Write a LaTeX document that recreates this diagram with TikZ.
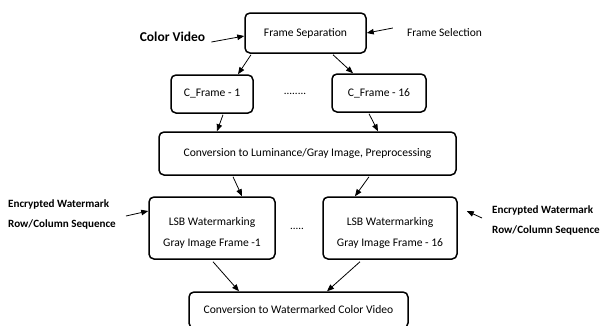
\documentclass[tikz,border=0pt]{standalone}
\usepackage{fontspec}
\setmainfont{Carlito}
\usetikzlibrary{arrows.meta}
\begin{document}
\begin{tikzpicture}[x=1pt,y=-1pt,
  box/.style={draw,line width=1.5pt,rounded corners=5pt,inner sep=0pt,align=center,font=\fontsize{11.6}{21}\selectfont},
  lbl/.style={inner sep=0pt,align=left},
  arr/.style={line width=0.8pt,-{Triangle[length=7pt,width=5.5pt]}}]
\useasboundingbox (0,0) rectangle (602,325);
\node[box,minimum width=121pt,minimum height=40pt] (fs) at (305.5,33) {Frame Separation};
\node[box,minimum width=82pt,minimum height=38pt] (c1) at (212,94) {C\_Frame - 1};
\node[box,minimum width=94pt,minimum height=38pt] (c16) at (379,93) {C\_Frame - 16};
\node[inner sep=0pt,font=\fontsize{11}{12}\selectfont] (d1) at (295,94) {........};
\node[box,minimum width=297pt,minimum height=43pt] (conv) at (307.5,153.5) {Conversion to Luminance/Gray Image, Preprocessing};
\node[box,minimum width=126pt,minimum height=62pt] (l1) at (212,228) {\rule{0pt}{18pt}LSB Watermarking\\Gray Image Frame -1};
\node[box,minimum width=134pt,minimum height=62pt] (l16) at (390,228) {\rule{0pt}{18pt}LSB Watermarking\\Gray Image Frame - 16};
\node[inner sep=0pt,font=\fontsize{11}{12}\selectfont] (d2) at (297,229) {.....};
\node[box,minimum width=219pt,minimum height=36pt] (bot) at (298.5,310) {Conversion to Watermarked Color Video};
\node[lbl,font=\fontsize{13.5}{15}\selectfont\bfseries] (cv) at (172.5,37) {Color Video};
\node[lbl,font=\fontsize{11.5}{12}\selectfont] (fsel) at (444.5,33) {Frame Selection};
\node[lbl,font=\fontsize{11.1}{20}\selectfont\bfseries,anchor=west] (le) at (8,214) {Encrypted Watermark\\Row/Column Sequence};
\node[lbl,font=\fontsize{11.1}{20}\selectfont\bfseries,anchor=west] (re) at (492,220) {Encrypted Watermark\\Row/Column Sequence};
\draw[arr] ([xshift=6pt,yshift=-5pt]cv.east) -- ([yshift=-3pt]fs.west);
\draw[arr] ([xshift=-14pt,yshift=5pt]fsel.west) -- (fs.east);
\draw[arr] ([xshift=-54.5pt,yshift=-1pt]fs.south) -- ([xshift=26pt]c1.north);
\draw[arr] ([xshift=27.5pt,yshift=-1pt]fs.south) -- ([xshift=-26pt]c16.north);
\draw[arr] ([xshift=11pt,yshift=-1pt]c1.south) -- ([xshift=-90.5pt]conv.north);
\draw[arr] ([xshift=-10pt,yshift=-1pt]c16.south) -- ([xshift=70.5pt]conv.north);
\draw[arr] ([xshift=-74.5pt,yshift=-1pt]conv.south) -- ([xshift=30pt]l1.north);
\draw[arr] ([xshift=61.5pt,yshift=-1pt]conv.south) -- ([xshift=-35pt]l16.north);
\draw[arr] ([xshift=1pt,yshift=-2pt]l1.south) -- ([xshift=-59.5pt]bot.north);
\draw[arr] ([xshift=-30pt,yshift=-2pt]l16.south) -- ([xshift=28.5pt]bot.north);
\draw[arr] ([xshift=10pt,yshift=-2pt]le.east) -- ([yshift=17pt]l1.west);
\draw[arr] ([xshift=-10pt,yshift=2pt]re.west) -- ([xshift=9pt,yshift=17pt]l16.east);
\end{tikzpicture}
\end{document}
